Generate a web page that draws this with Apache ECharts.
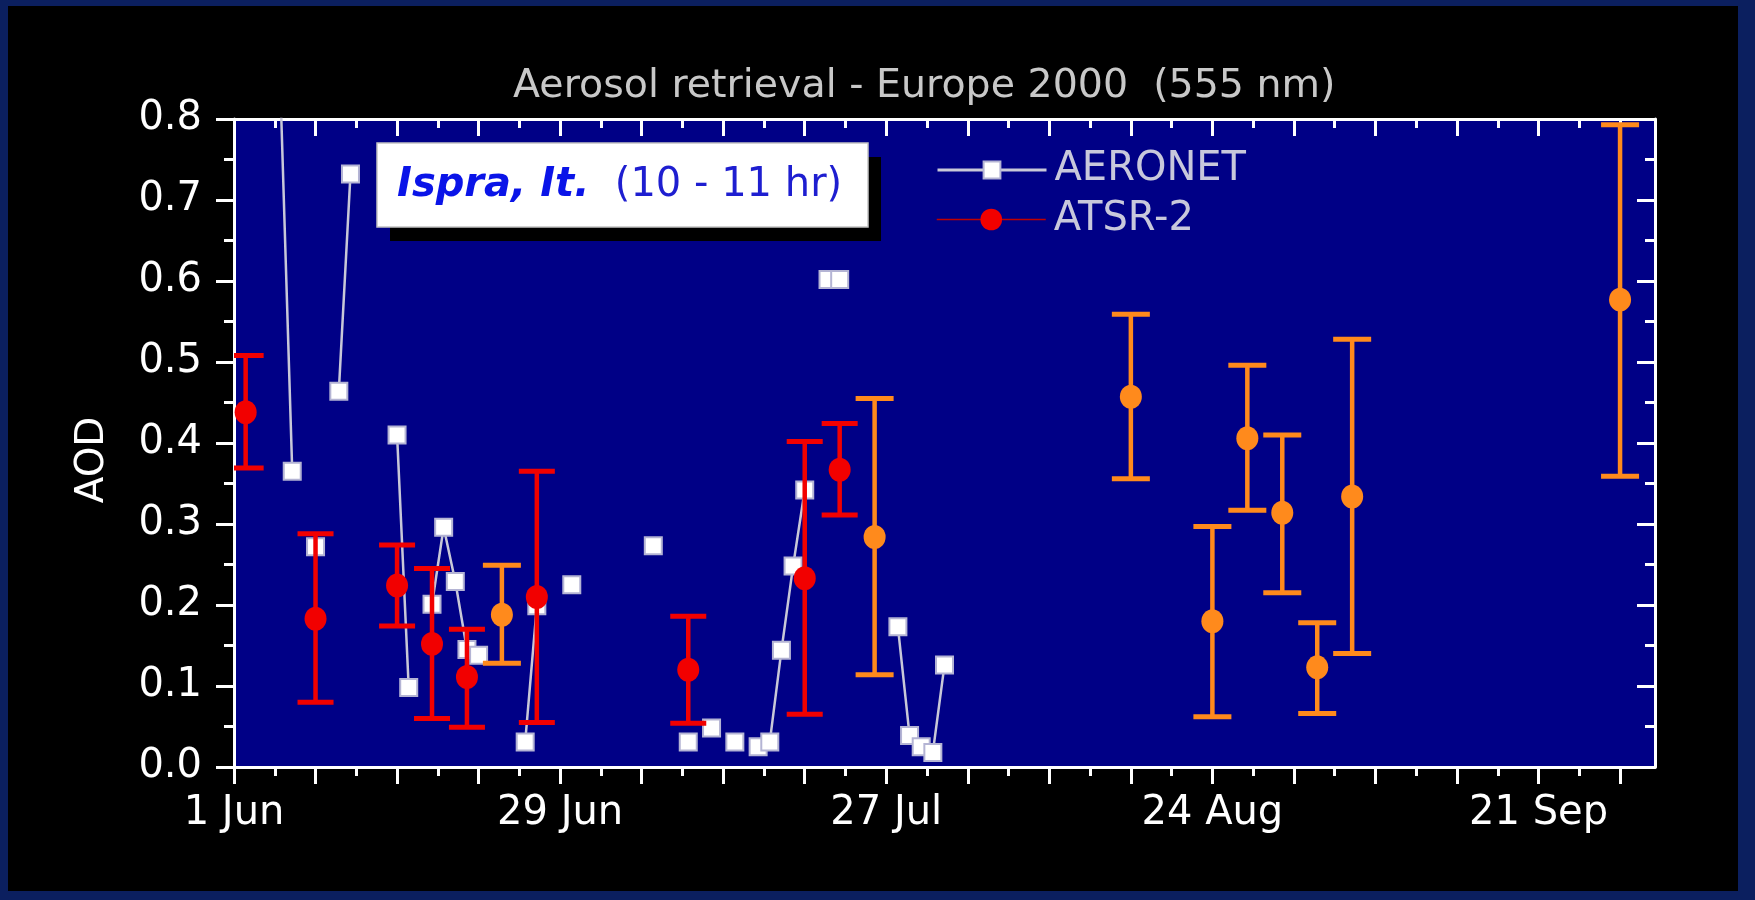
<!DOCTYPE html>
<html>
<head>
<meta charset="utf-8">
<script src="https://cdn.jsdelivr.net/npm/echarts@6/dist/echarts.min.js"></script>
<style>
  html, body { margin: 0; padding: 0; width: 1755px; height: 900px; overflow: hidden; background: #0b1f5f; }
  #slide { position: absolute; left: 8px; top: 6px; width: 1730px; height: 885px; background: #000; }
  #chart { position: absolute; left: 0; top: 0; width: 1755px; height: 900px; }
</style>
</head>
<body>
<div id="slide"></div>
<div id="chart"></div>
<script>
// Days counted from 1 June 2000 (day 0); axis runs to 1 October (day 122).
const labelDays = [0, 28, 56, 84, 112];
const labelTexts = ['1 Jun', '29 Jun', '27 Jul', '24 Aug', '21 Sep'];

// AERONET sun-photometer AOD (consecutive days are joined by a line)
const aeronetDays = [4, 5, 7, 9, 10, 14, 15, 17, 18, 19, 20, 21, 25, 26, 29, 36, 39, 41, 43, 45, 46, 47, 48, 49, 51, 52, 57, 58, 59, 60, 61];
const aeronetAod  = [0.83, 0.365, 0.272, 0.464, 0.732, 0.410, 0.098, 0.201, 0.296, 0.229, 0.145, 0.138, 0.031, 0.199, 0.225, 0.273, 0.031, 0.048, 0.031, 0.025, 0.031, 0.144, 0.248, 0.342, 0.602, 0.602, 0.173, 0.039, 0.025, 0.018, 0.126];

// ATSR-2 retrievals with uncertainty range (red)
const atsrDays = [1, 7, 14, 17, 20, 26, 39, 49, 52];
const atsrAod  = [0.438, 0.183, 0.224, 0.152, 0.111, 0.210, 0.120, 0.233, 0.367];
const atsrLow  = [0.369, 0.080, 0.174, 0.060, 0.049, 0.055, 0.054, 0.065, 0.311];
const atsrHigh = [0.508, 0.288, 0.274, 0.245, 0.170, 0.365, 0.186, 0.402, 0.424];

// ATSR-2 retrievals, second set (orange)
const lateDays = [23, 55, 77, 84, 87, 90, 93, 96, 119];
const lateAod  = [0.188, 0.284, 0.457, 0.180, 0.406, 0.314, 0.123, 0.334, 0.577];
const lateLow  = [0.128, 0.114, 0.356, 0.062, 0.317, 0.215, 0.066, 0.140, 0.359];
const lateHigh = [0.249, 0.455, 0.559, 0.297, 0.496, 0.410, 0.178, 0.528, 0.793];

const FONT = 'DejaVu Sans';
const RED = '#f20000';
const ORANGE = '#ff8a1c';
const WHITE = '#ffffff';

// weekly major ticks and half-week minor ticks
const majorTicks = [];
const minorTicks = [];
for (let d = 0; d <= 119; d += 7) { majorTicks.push(d); minorTicks.push(d + 3.5); }

// AERONET series: break the line wherever a day is missing
const aeronetData = [];
aeronetDays.forEach((d, i) => {
  if (i > 0 && d - aeronetDays[i - 1] > 1) aeronetData.push([aeronetDays[i - 1] + 0.5, '-']);
  aeronetData.push([d, aeronetAod[i]]);
});

const zip2 = (a, b) => a.map((v, i) => [v, b[i]]);
const zip4 = (a, b, c, d) => a.map((v, i) => [v, b[i], c[i], d[i]]);

function errorBar(color, halfCap) {
  return function (params, api) {
    const x = api.value(0);
    const lo = api.coord([x, api.value(2)]);
    const hi = api.coord([x, api.value(3)]);
    const style = { stroke: color, lineWidth: 4.5 };
    const capStyle = { stroke: color, lineWidth: 5 };
    return {
      type: 'group',
      children: [
        { type: 'line', shape: { x1: lo[0], y1: lo[1], x2: hi[0], y2: hi[1] }, style },
        { type: 'line', shape: { x1: hi[0] - halfCap, y1: hi[1], x2: hi[0] + halfCap, y2: hi[1] }, style: capStyle },
        { type: 'line', shape: { x1: lo[0] - halfCap, y1: lo[1], x2: lo[0] + halfCap, y2: lo[1] }, style: capStyle }
      ]
    };
  };
}

function xAxisDef(position, ticks, len, inside, withLine, withLabels) {
  return {
    type: 'value', position, min: 0, max: 122,
    axisLine: { show: withLine, onZero: false, lineStyle: { color: WHITE, width: 3 } },
    axisTick: { show: true, customValues: ticks, length: len, inside, lineStyle: { color: WHITE, width: 3 } },
    axisLabel: withLabels ? {
      show: true, customValues: labelDays, margin: 27,
      formatter: v => labelTexts[labelDays.indexOf(Math.round(v))] || '',
      color: WHITE, fontFamily: FONT, fontSize: 40
    } : { show: false },
    splitLine: { show: false }
  };
}

function yAxisDef(position, inside, withLabels) {
  return {
    type: 'value', position, min: 0, max: 0.8, interval: 0.1,
    axisLine: { show: true, onZero: false, lineStyle: { color: WHITE, width: 3 } },
    axisTick: { show: true, length: 18, inside, lineStyle: { color: WHITE, width: 3 } },
    minorTick: { show: true, splitNumber: 2, length: 10, lineStyle: { color: WHITE, width: 3 } },
    axisLabel: withLabels ? {
      show: true, margin: 32, formatter: v => v.toFixed(1),
      color: WHITE, fontFamily: FONT, fontSize: 40
    } : { show: false },
    splitLine: { show: false }
  };
}

const chart = echarts.init(document.getElementById('chart'), null, { renderer: 'canvas' });

const yLeft = yAxisDef('left', false, true);
yLeft.name = 'AOD';
yLeft.nameLocation = 'middle';
yLeft.nameRotate = 90;
yLeft.nameGap = 122;
yLeft.nameTextStyle = { color: WHITE, fontFamily: FONT, fontSize: 39, padding: [0, 34, 0, 0] };

chart.setOption({
  backgroundColor: 'transparent',
  animation: false,
  title: {
    text: 'Aerosol retrieval - Europe 2000  (555 nm)',
    left: 513, top: 67, padding: 0,
    textStyle: { color: '#c8c8c8', fontFamily: FONT, fontSize: 39.5, fontWeight: 'normal' }
  },
  grid: {
    left: 234, top: 119, width: 1421, height: 648,
    show: true, backgroundColor: '#000086', borderWidth: 0
  },
  legend: [
    {
      data: ['AERONET'],
      lineStyle: { color: '#c8c8d8', width: 3, opacity: 1 },
      left: 936, top: 150, padding: 0, orient: 'vertical',
      itemWidth: 109, itemHeight: 21, selectedMode: false,
      textStyle: { color: '#c8c8dc', fontFamily: FONT, fontSize: 40, lineHeight: 40, padding: [0, 0, 0, 3] }
    },
    {
      data: ['ATSR-2'],
      lineStyle: { color: '#c00000', width: 1.5, opacity: 1, type: 'solid' },
      left: 936, top: 199.5, padding: 0, orient: 'vertical',
      itemWidth: 109, itemHeight: 27, selectedMode: false,
      textStyle: { color: '#c8c8dc', fontFamily: FONT, fontSize: 40, lineHeight: 40, padding: [0, 0, 0, 3] }
    }
  ],
  xAxis: [
    xAxisDef('bottom', majorTicks, 17, false, true, true),
    xAxisDef('bottom', minorTicks, 9, false, false, false),
    xAxisDef('top', majorTicks, 17, true, true, false),
    xAxisDef('top', minorTicks, 9, true, false, false)
  ],
  yAxis: [
    yLeft,
    yAxisDef('right', true, false)
  ],
  graphic: [
    { type: 'rect', silent: true, z: 10, shape: { x: 390, y: 157, width: 491, height: 84 }, style: { fill: '#000' } },
    { type: 'rect', silent: true, z: 11, shape: { x: 377, y: 143, width: 491, height: 84 }, style: { fill: '#ffffff', stroke: '#c4c4c4', lineWidth: 1.5 } },
    {
      type: 'text', silent: true, z: 12, x: 397, y: 186,
      style: {
        text: '{a|Ispra, It.}{b|  (10 - 11 hr)}',
        verticalAlign: 'middle',
        rich: {
          a: { fontFamily: FONT, fontSize: 40, fontWeight: 'bold', fontStyle: 'italic', fill: '#0a14e8' },
          b: { fontFamily: FONT, fontSize: 40, fill: '#1e1ed0' }
        }
      }
    }
  ],
  series: [
    {
      name: 'AERONET', type: 'line', xAxisIndex: 0, yAxisIndex: 0, z: 2,
      data: aeronetData, connectNulls: false, clip: true,
      symbol: 'rect', symbolSize: 17, showAllSymbol: true,
      lineStyle: { color: '#c8c8d8', width: 2.5 },
      itemStyle: { color: '#ffffff', borderColor: '#b4b4d4', borderWidth: 2 }
    },
    {
      name: 'ATSR-2 range', type: 'custom', xAxisIndex: 0, yAxisIndex: 0, z: 3,
      renderItem: errorBar(RED, 18), data: zip4(atsrDays, atsrAod, atsrLow, atsrHigh),
      encode: { x: 0, y: [1, 2, 3] }, clip: true
    },
    {
      name: 'ATSR-2 second set range', type: 'custom', xAxisIndex: 0, yAxisIndex: 0, z: 3,
      renderItem: errorBar(ORANGE, 19), data: zip4(lateDays, lateAod, lateLow, lateHigh),
      encode: { x: 0, y: [1, 2, 3] }, clip: true
    },
    {
      name: 'ATSR-2', type: 'line', xAxisIndex: 0, yAxisIndex: 0, z: 4,
      data: zip2(atsrDays, atsrAod),
      symbol: 'circle', symbolSize: [22, 24], showAllSymbol: true,
      lineStyle: { color: '#c00000', width: 1.5, opacity: 0 },
      itemStyle: { color: RED }
    },
    {
      name: 'ATSR-2 second set', type: 'scatter', xAxisIndex: 0, yAxisIndex: 0, z: 4,
      data: zip2(lateDays, lateAod),
      symbol: 'circle', symbolSize: [22, 24],
      itemStyle: { color: ORANGE, opacity: 1 }
    }
  ]
});
</script>
</body>
</html>
